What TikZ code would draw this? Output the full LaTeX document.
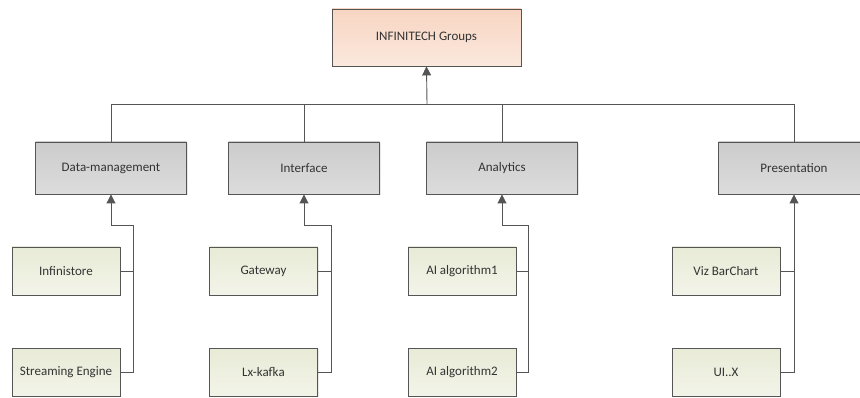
\documentclass[tikz,border=0pt]{standalone}
\usepackage{fontspec}
\setmainfont{Carlito}
\usetikzlibrary{arrows.meta,shadows}
\definecolor{linec}{HTML}{555555}
\definecolor{textc}{HTML}{333333}
\definecolor{peachT}{HTML}{F7D5C2}
\definecolor{peachB}{HTML}{FBE8DD}
\definecolor{grayT}{HTML}{CCCCCC}
\definecolor{grayB}{HTML}{DCDCDC}
\definecolor{leafT}{HTML}{E8EBD6}
\definecolor{leafB}{HTML}{F3F4E9}
\tikzset{
  box/.style={draw=linec, line width=0.9pt, inner sep=0pt, text=textc,
    font=\fontsize{13}{15}\selectfont,
    drop shadow={opacity=0.18, shadow xshift=1.2pt, shadow yshift=-1.2pt}},
  topbox/.style={box, top color=peachT, bottom color=peachB, minimum width=189pt, minimum height=57pt},
  midbox/.style={box, top color=grayT, bottom color=grayB, minimum width=151pt, minimum height=52pt},
  leafbox/.style={box, top color=leafT, bottom color=leafB, minimum width=108pt, minimum height=48pt},
  conn/.style={draw=linec, line width=0.9pt},
  arr/.style={conn, -{Triangle[width=9pt,length=9pt]}}
}
\begin{document}
\begin{tikzpicture}[x=1pt,y=-1pt]
\useasboundingbox (0,0) rectangle (860,398);
\clip (0,0) rectangle (860,398);
\node[topbox] (top) at (426.5,37.5) {INFINITECH Groups};
\node[midbox] (dm) at (111,168) {Data-management};
\node[midbox] (if) at (304,168) {Interface};
\node[midbox] (an) at (502,168) {Analytics};
\node[midbox] (pr) at (794,168) {Presentation};
\node[leafbox] (inf) at (66,271) {Infinistore};
\node[leafbox] (se) at (66,372) {Streaming Engine};
\node[leafbox] (gw) at (263.5,271) {Gateway};
\node[leafbox] (lx) at (263.5,372) {Lx-kafka};
\node[leafbox] (ai1) at (462,271) {AI algorithm1};
\node[leafbox] (ai2) at (462,372) {AI algorithm2};
\node[leafbox] (viz) at (726,271) {Viz BarChart};
\node[leafbox] (ui) at (726,372) {UI..X};
% bus
\coordinate (bus) at (427,104);
\draw[conn] (dm.north) |- (bus);
\draw[conn] (pr.north) |- (bus);
\draw[conn] (if.north) -- (if.north |- bus);
\draw[conn] (an.north) -- (an.north |- bus);
\draw[arr] (bus) -- (top.south);
% group connectors
\coordinate (j1) at (133,225);
\coordinate (j2) at (331,225);
\coordinate (j3) at (528,225);
\draw[arr] (se.east) -| (j1) -| (dm.south);
\draw[conn] (inf.east) -- (inf.east -| j1);
\draw[arr] (lx.east) -| (j2) -| (if.south);
\draw[conn] (gw.east) -- (gw.east -| j2);
\draw[arr] (ai2.east) -| (j3) -| (an.south);
\draw[conn] (ai1.east) -- (ai1.east -| j3);
\draw[arr] (ui.east) -| (pr.south);
\draw[conn] (viz.east) -- (viz.east -| pr.south);
\end{tikzpicture}
\end{document}
